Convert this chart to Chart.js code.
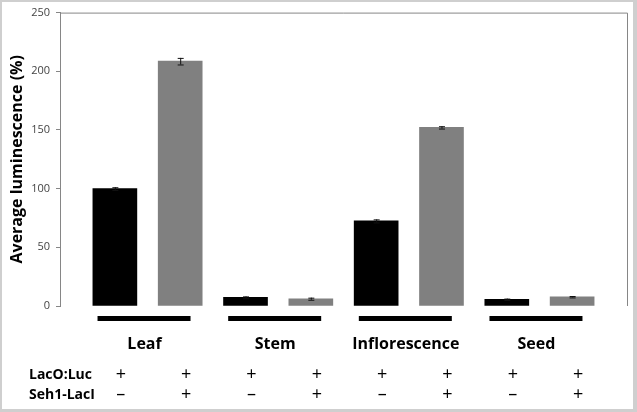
<!DOCTYPE html>
<html>
<head>
<meta charset="utf-8">
<script src="https://cdn.jsdelivr.net/npm/chart.js@4/dist/chart.umd.min.js"></script>
<style>
  html, body { margin: 0; padding: 0; background: #fff; }
  canvas { display: block; }
</style>
</head>
<body>
<canvas id="lumChart" width="637" height="412"></canvas>
<script>
// Data
const tissues = ['Leaf', 'Stem', 'Inflorescence', 'Seed'];
const lacOnly = [100, 7.4, 72.5, 5.7];       // LacO:Luc +, Seh1-LacI -
const lacOnlyErr = [1.2, 0.8, 1.3, 0.6];
const withSeh1 = [208.6, 6.2, 152.2, 7.9];   // LacO:Luc +, Seh1-LacI +
const withSeh1Err = [2.8, 0.9, 1.0, 0.6];
const yTicks = [0, 50, 100, 150, 200, 250];
const rowLabels = ['LacO:Luc', 'Seh1-LacI'];
const rowSigns = [['+', '+'], ['\u2013', '+']];

const FONT = "'Open Sans', sans-serif";

// bar positions on a linear x axis: black at 1,3,5,7 and grey at 2,4,6,8
const blackPts = lacOnly.map((v, i) => ({ x: i * 2 + 1, y: v }));
const greyPts = withSeh1.map((v, i) => ({ x: i * 2 + 2, y: v }));

const extras = {
  id: 'extras',
  afterDatasetsDraw(chart) {
    const c = chart.ctx;
    const ys = chart.scales.y;
    const errs = [lacOnlyErr, withSeh1Err];
    c.save();
    // error bars
    chart.data.datasets.forEach((ds, d) => {
      chart.getDatasetMeta(d).data.forEach((bar, i) => {
        const v = ds.data[i].y, e = errs[d][i];
        const y1 = ys.getPixelForValue(v + e), y2 = ys.getPixelForValue(v - e);
        c.strokeStyle = '#111';
        c.lineWidth = 1;
        c.beginPath();
        c.moveTo(bar.x + 0.5, y1); c.lineTo(bar.x + 0.5, y2);
        c.moveTo(bar.x - 2.5, y1 + 0.5); c.lineTo(bar.x + 3.5, y1 + 0.5);
        c.moveTo(bar.x - 2.5, y2 + 0.5); c.lineTo(bar.x + 3.5, y2 + 0.5);
        c.stroke();
      });
    });
    // plot frame (top and right)
    const a = chart.chartArea;
    c.strokeStyle = '#868686';
    c.lineWidth = 1;
    c.beginPath();
    c.moveTo(a.left, a.top + 0.5); c.lineTo(a.right + 0.5, a.top + 0.5);
    c.lineTo(a.right + 0.5, a.bottom);
    c.stroke();
    c.restore();
  },
  afterDraw(chart) {
    const c = chart.ctx;
    const xs = chart.scales.x;
    c.save();
    c.textBaseline = 'middle';
    tissues.forEach((t, i) => {
      const mid = xs.getPixelForValue(i * 2 + 1.5);
      c.fillStyle = '#000';
      c.fillRect(mid - 50, 316, 93, 5);
      c.font = 'bold 16px ' + FONT;
      c.textAlign = 'center';
      c.fillText(t, mid - 3, 344);
    });
    rowLabels.forEach((r, k) => {
      const y = k === 0 ? 375 : 395;
      c.font = 'bold 14px ' + FONT;
      c.textAlign = 'left';
      c.fillText(r, 29, y);
      c.font = '18px ' + FONT;
      c.textAlign = 'center';
      for (let i = 0; i < 8; i++) {
        const x = xs.getPixelForValue(i + 1) + 6;
        c.fillText(rowSigns[k][i % 2], x, y);
      }
    });
    // outer frame
    c.fillStyle = '#cfcfcf';
    c.fillRect(0, 0, 637, 2);
    c.fillRect(0, 0, 2, 412);
    c.fillRect(633, 0, 4, 412);
    c.fillRect(0, 409, 637, 3);
    c.restore();
  }
};

const ctx = document.getElementById('lumChart').getContext('2d');
const lumChart = new Chart(ctx, {
  type: 'bar',
  data: {
    datasets: [
      { label: 'Seh1-LacI \u2013', data: blackPts, backgroundColor: '#000000' },
      { label: 'Seh1-LacI +', data: greyPts, backgroundColor: '#808080' }
    ]
  },
  options: {
    responsive: false,
    animation: false,
    layout: { padding: { top: 12, right: 10, bottom: 106, left: 0 } },
    datasets: { bar: { barThickness: 44, grouped: false } },
    plugins: { legend: { display: false }, tooltip: { enabled: false } },
    scales: {
      x: { type: 'linear', min: 0.16, max: 8.84, offset: false, display: false },
      y: {
        min: 0, max: 250,
        afterBuildTicks: s => { s.ticks = yTicks.map(v => ({ value: v })); },
        afterFit: s => { s.width = 60; },
        border: { display: true, color: '#868686', width: 1 },
        grid: { drawOnChartArea: false, drawTicks: true, tickLength: 4, color: '#868686' },
        ticks: { color: '#444', font: { family: FONT, size: 11 }, padding: 6 },
        title: {
          display: true, text: 'Average luminescence (%)', color: '#000',
          font: { family: FONT, size: 16, weight: 'bold' }, padding: { top: 8, bottom: 2 }
        }
      }
    }
  },
  plugins: [extras]
});
</script>
</body>
</html>
